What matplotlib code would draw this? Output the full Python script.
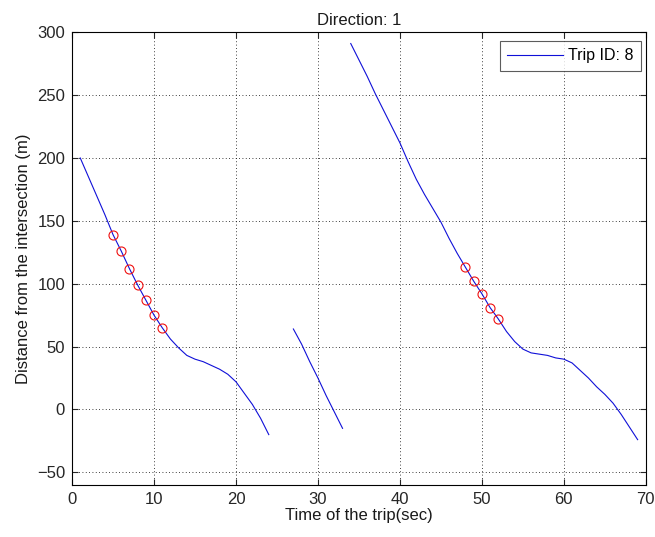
import numpy as np
import matplotlib
matplotlib.use("Agg")
import matplotlib.pyplot as plt

plt.rcParams['font.family'] = ['Liberation Sans', 'DejaVu Sans']

# Trajectory (time in s, distance in m); NaN separates segments
seg1_t = [1, 2, 3, 4, 5, 6, 7, 8, 9, 10, 11, 12, 13, 14, 15, 16, 17, 18, 19, 20, 21, 22, 23, 24]
seg1_d = [200, 185, 170, 155, 139, 126, 112, 99, 87, 75, 65, 56, 49, 43, 40, 38, 35, 32, 28, 22, 13, 4, -7, -20]
seg2_t = [27, 28, 29, 30, 31, 32, 33]
seg2_d = [64, 52, 38, 25, 11, -2, -15]
seg3_t = [34, 35, 36, 37, 38, 39, 40, 41, 42, 43, 44, 45, 46, 47, 48, 49, 50, 51, 52,
          53, 54, 55, 56, 57, 58, 59, 60, 61, 62, 63, 64, 65, 66, 67, 68, 69]
seg3_d = [291, 278, 265, 251, 238, 225, 212, 197, 183, 171, 160, 149, 136, 124, 113, 102, 92, 81, 72,
          62, 54, 48, 45, 44, 43, 41, 40, 37, 31, 25, 18, 12, 5, -4, -14, -24]

# Marked points (red circles)
mark_t = [5, 6, 7, 8, 9, 10, 11, 48, 49, 50, 51, 52]
mark_d = [139, 126, 112, 99, 87, 75, 65, 113, 102, 92, 81, 72]

t = seg1_t + [np.nan] + seg2_t + [np.nan] + seg3_t
d = seg1_d + [np.nan] + seg2_d + [np.nan] + seg3_d

fig = plt.figure(figsize=(6.55, 5.37), dpi=100)
ax = fig.add_axes([0.110, 0.097, 0.876, 0.843])

ax.plot(t, d, color='#1010d8', lw=0.8, label='Trip ID: 8')
ax.plot(mark_t, mark_d, linestyle='none', marker='o', markersize=6.5,
        markerfacecolor='none', markeredgecolor='#ee1010', markeredgewidth=0.8)

ax.set_xlim(0, 70)
ax.set_ylim(-60, 300)
ax.set_xticks(np.arange(0, 71, 10))
ax.set_yticks(np.arange(-50, 301, 50))
ax.grid(True, linestyle=(0, (1, 3)), color='black', linewidth=0.6)
ax.tick_params(direction='in', length=4, labelsize=12, top=True, right=True,
               labeltop=False, labelright=False, colors='#262626')
ax.tick_params(axis='both', labelcolor='#262626', pad=5)
for s in ax.spines.values():
    s.set_linewidth(0.8)

ax.set_title('Direction: 1', fontsize=12, color='#1a1a1a', pad=5)
ax.set_xlabel('Time of the trip(sec)', fontsize=12, labelpad=1, color='#1a1a1a')
ax.set_ylabel('Distance from the intersection (m)', fontsize=12, labelpad=4, color='#1a1a1a')

leg = ax.legend(loc='upper right', bbox_to_anchor=(0.991, 0.980), borderaxespad=0,
                fancybox=False, edgecolor='#333333', fontsize=11.5,
                handlelength=3.5, handletextpad=0.3, borderpad=0.45)
leg.get_frame().set_linewidth(0.8)

fig.savefig('out.png', dpi=100)
